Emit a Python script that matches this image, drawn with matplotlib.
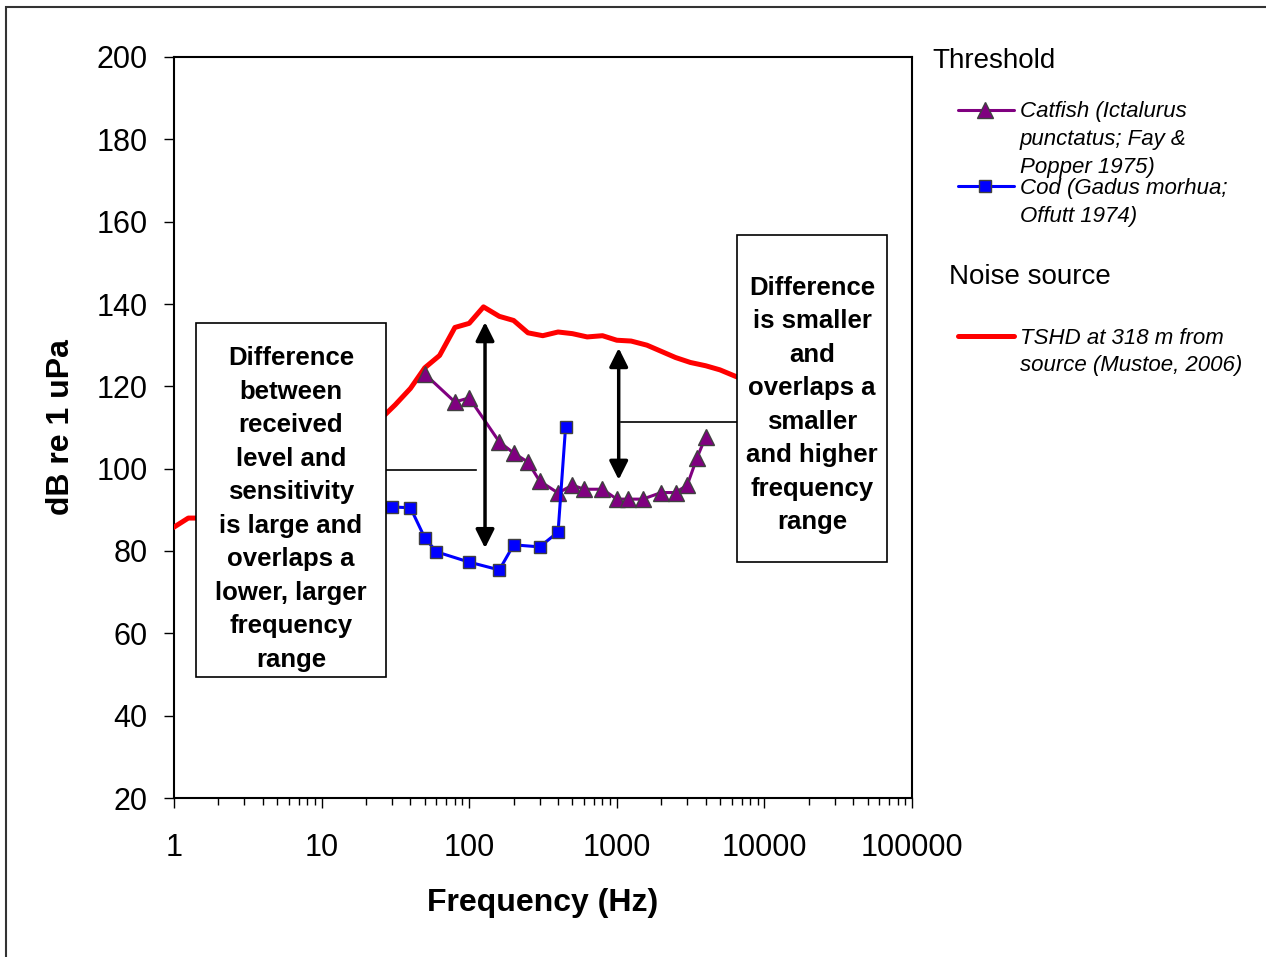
import matplotlib
matplotlib.use("Agg")
import matplotlib.pyplot as plt
from matplotlib.lines import Line2D
from matplotlib.patches import Rectangle
from matplotlib.ticker import LogLocator, FixedLocator, NullFormatter

plt.rcParams['font.family'] = ['Liberation Sans', 'DejaVu Sans']

# noise source: TSHD at 318 m (1/3 octave bands)
noise_freq = [1, 1.25, 1.6, 25, 31.5, 40, 50, 63, 80, 100, 125, 160, 200, 250,
              315, 400, 500, 630, 800, 1000, 1250, 1600, 2000, 2500, 3150,
              4000, 5000, 6300, 8000]
noise_db = [85.8, 88, 88, 112, 115.5, 119.5, 124.5, 127.5, 134.3, 135.3, 139.3,
            137, 136, 133, 132.3, 133.2, 132.8, 132, 132.3, 131.2, 131, 130,
            128.5, 127, 125.8, 125, 124, 122.5, 121]

# catfish hearing threshold
cat_freq = [50, 80, 100, 160, 200, 250, 300, 400, 500, 600, 800, 1000, 1200,
            1500, 2000, 2500, 3000, 3500, 4000]
cat_db = [123, 116.2, 117.2, 106.5, 103.8, 101.6, 97, 94.1, 96, 95, 95, 92.6,
          92.6, 92.6, 94.2, 94.2, 96, 102.7, 107.7]

# cod hearing threshold
cod_freq = [30, 40, 50, 60, 100, 160, 200, 300, 400, 450]
cod_db = [90.7, 90.5, 83.2, 79.8, 77.3, 75.4, 81.5, 81.0, 84.6, 110.2]

y_ticks = [20, 40, 60, 80, 100, 120, 140, 160, 180, 200]
x_ticks = [1, 10, 100, 1000, 10000, 100000]
x_labels = ['1', '10', '100', '1000', '10000', '100000']

W, H = 1266, 957
fig = plt.figure(figsize=(W / 100, H / 100), dpi=100)


def fx(px):
    return px / W


def fy(py):
    return 1 - py / H


ax = fig.add_axes([fx(174), fy(798), fx(912) - fx(174), fy(57) - fy(798)])

ax.plot(noise_freq, noise_db, color='#ff0000', lw=3.6, solid_joinstyle='round', zorder=3)
ax.plot(cat_freq, cat_db, color='#800080', lw=2.2, marker='^', ms=11,
        mfc='#800080', mec='#404040', mew=1, zorder=4)
ax.plot(cod_freq, cod_db, color='#0000ff', lw=2.2, marker='s', ms=8.5,
        mfc='#0000ff', mec='#404040', mew=1, zorder=4)

ax.set_xscale('log')
ax.set_xlim(1, 100000)
ax.set_ylim(20, 200)
ax.yaxis.set_major_locator(FixedLocator(y_ticks))
ax.xaxis.set_major_locator(FixedLocator(x_ticks))
ax.set_xticklabels(x_labels)
ax.xaxis.set_minor_locator(LogLocator(base=10, subs=range(2, 10), numticks=20))
ax.xaxis.set_minor_formatter(NullFormatter())
ax.tick_params(axis='both', which='major', direction='out', length=7, width=1,
               labelsize=22)
ax.tick_params(axis='x', which='major', pad=18)
ax.tick_params(axis='y', which='major', pad=12)
ax.tick_params(axis='x', which='minor', direction='out', length=5, width=1)
for s in ax.spines.values():
    s.set_linewidth(1.5)

ax.set_xlabel('Frequency (Hz)', fontsize=23, fontweight='bold', labelpad=18)
ax.set_ylabel('dB re 1 uPa', fontsize=23, fontweight='bold', labelpad=15)

# double arrows showing the gap between noise and threshold
arrow_kw = dict(arrowstyle='<|-|>', color='black', lw=2.5, mutation_scale=28,
                shrinkA=0, shrinkB=0)
ax.annotate('', xy=(128, 135.6), xytext=(128, 80.7), arrowprops=arrow_kw, zorder=5)
ax.annotate('', xy=(1030, 129.3), xytext=(1030, 97.3), arrowprops=arrow_kw, zorder=5)

# connectors from the boxes to the arrows
ax.plot([27, 111], [99.7, 99.7], color='black', lw=1.2, zorder=2)
ax.plot([1070, 6600], [111.3, 111.3], color='black', lw=1.2, zorder=2)

# text boxes
left_txt = ('Difference\nbetween\nreceived\nlevel and\nsensitivity\n'
            'is large and\noverlaps a\nlower, larger\nfrequency\nrange')
right_txt = ('Difference\nis smaller\nand\noverlaps a\nsmaller\n'
             'and higher\nfrequency\nrange')

for (x0, y0, x1, y1, ty, txt) in [(196, 323, 386, 677, 509, left_txt),
                                  (737, 235, 887, 562, 405, right_txt)]:
    fig.add_artist(Rectangle((fx(x0), fy(y1)), fx(x1) - fx(x0), fy(y0) - fy(y1),
                             transform=fig.transFigure, facecolor='white',
                             edgecolor='black', lw=1.2, zorder=5))
    fig.text(fx((x0 + x1) / 2), fy(ty), txt, ha='center', va='center',
             fontsize=18.5, fontweight='bold', linespacing=1.5, zorder=6)

# legend drawn by hand
fig.text(fx(932), fy(61), 'Threshold', fontsize=20, va='center', ha='left')
fig.text(fx(949), fy(277), 'Noise source', fontsize=20, va='center', ha='left')

entries = [
    (110, '#800080', 2.2, '^', 11, ['Catfish (Ictalurus', 'punctatus; Fay &', 'Popper 1975)']),
    (186, '#0000ff', 2.2, 's', 8.5, ['Cod (Gadus morhua;', 'Offutt 1974)']),
    (336, '#ff0000', 3.6, None, 0, ['TSHD at 318 m from', 'source (Mustoe, 2006)']),
]
for (py, col, lw, mk, ms, lines) in entries:
    fig.add_artist(Line2D([fx(958), fx(1014)], [fy(py), fy(py)], color=col, lw=lw,
                          transform=fig.transFigure, solid_capstyle='round'))
    if mk:
        fig.add_artist(Line2D([fx(985)], [fy(py)], marker=mk, ms=ms, color=col,
                              mfc=col, mec='#404040', mew=1, transform=fig.transFigure))
    for i, ln in enumerate(lines):
        fig.text(fx(1020), fy(py + 2 + 28 * i), ln, fontsize=16, style='italic',
                 va='center', ha='left')

# outer frame
fig.add_artist(Rectangle((fx(6), -0.05), 1.1, fy(7) + 0.05, transform=fig.transFigure,
                         facecolor='none', edgecolor='#333333', lw=1.5))

plt.savefig('out.png', dpi=100)
